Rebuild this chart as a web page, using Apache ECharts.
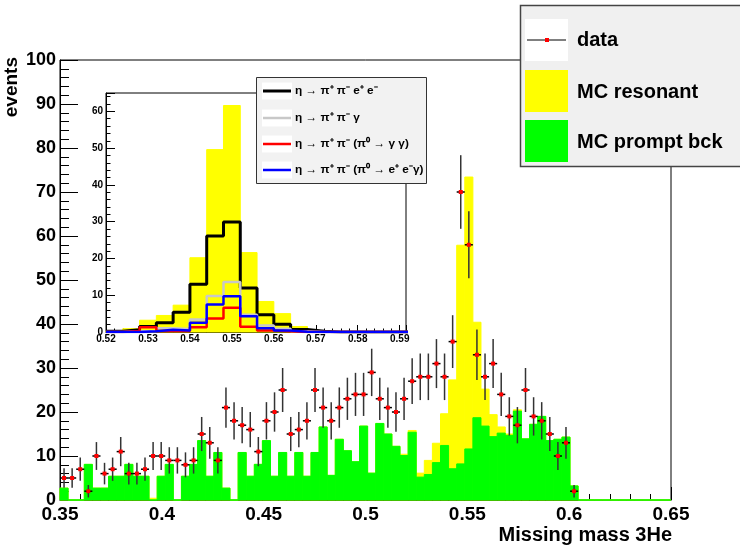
<!DOCTYPE html>
<html>
<head>
<meta charset="utf-8">
<script src="https://cdn.jsdelivr.net/npm/echarts@6.0.0/dist/echarts.min.js"></script>
<style>
  html, body { margin: 0; padding: 0; background: #fff; }
  #chart { width: 740px; height: 545px; }
</style>
</head>
<body>
<div id="chart"></div>
<script>
// main histogram binning
const binStart = 0.35;
const binWidth = 0.003975;

// measured counts per bin (data, error = sqrt(N))
const dataCounts = [5, 5, 7, 2, 10, 6, 7, 11, 6, 6,
                    7, 10, 10, 9, 9, 8, 9, 15, 13, 9,
                    21, 18, 17, 16, 11, 18, 20, 25, 15, 16,
                    18, 25, 21, 18, 21, 23, 24, 24, 29, 23,
                    21, 20, 23, 27, 28, 28, 31, 28, 36, 70,
                    58, 33, 28, 31, 24, 19, 17, 25, 19, 18,
                    15, 10, 13, 2];

// MC prompt background (green)
const mcBck = [2.7, 0, 0, 8.1, 2.7, 2.7, 5.4, 5.4, 8.1, 5.4,
               5.4, 0, 5.4, 8.1, 0, 5.4, 8.1, 13.5, 5.4, 10.8,
               2.7, 0, 10.8, 5.4, 8.1, 13.5, 5.4, 10.8, 5.4, 10.8,
               5.4, 10.8, 16.6, 5.6, 13.8, 11.2, 8.7, 16.8, 6.1, 17.4,
               15.0, 12.2, 10.1, 15.4, 5.2, 5.8, 8.5, 12.4, 7.1, 8.2,
               11.6, 18.7, 16.8, 14.4, 15.2, 14.7, 20.2, 13.9, 17.2, 19.0,
               13.5, 13.8, 14.3, 3.2, 0, 0, 0, 0, 0, 0,
               0, 0, 0, 0, 0, 0];

// MC resonant (yellow, stacked on the background)
const mcRes = [0, 0, 0, 0, 0, 0, 0, 0, 0, 0,
               0, 0.4, 0, 0, 0, 0, 0, 0, 0, 0,
               0, 0, 0, 0, 0, 0, 0, 0, 0, 0,
               0, 0, 0, 0, 0, 0, 0, 0, 0, 0,
               0, 0, 0.3, 0.4, 0.9, 3.2, 4.4, 7.2, 20.2, 49.7,
               61.8, 21.7, 8.4, 5.0, 1.4, 0.3, 0.3, 0, 0, 0,
               0, 0, 0, 0, 0, 0, 0, 0, 0, 0,
               0, 0, 0, 0, 0, 0];

// inset: resonant MC split by channel
const insetStart = 0.52;
const insetWidth = 0.004;
const insetRes   = [0.3, 0.9, 3.2, 4.5, 7.3, 20.2, 49.6, 61.6, 21.6, 8.3, 5.0, 1.5, 0.2, 0, 0, 0, 0, 0];
const insetEE    = [0.2, 0.6, 1.5, 2.5, 5.4, 13.0, 26.1, 29.9, 12.0, 4.7, 2.1, 0.7, 0.2, 0, 0, 0, 0, 0];
const insetGamma = [0, 0.2, 0.3, 1.0, 0.8, 3.4, 9.8, 13.6, 4.7, 1.8, 0.9, 0.2, 0, 0, 0, 0, 0, 0];
const insetGG    = [0, 0.3, 1.3, 0.3, 0.3, 1.3, 3.7, 6.6, 1.4, 0.4, 0.2, 0, 0, 0, 0, 0, 0, 0];
const insetEEG   = [0, 0, 0.2, 0.6, 0.4, 2.5, 7.5, 9.7, 4.3, 1.0, 0.4, 0.1, 0, 0, 0, 0, 0, 0];

const legendLabels = ['data', 'MC resonant', 'MC prompt bck'];
const insetLabels = ['η → π⁺ π⁻ e⁺ e⁻', 'η → π⁺ π⁻ γ', 'η → π⁺ π⁻ (π⁰ → γ γ)', 'η → π⁺ π⁻ (π⁰ → e⁺ e⁻γ)'];
const insetColors = ['#000000', '#c8c8c8', '#ff0000', '#0000ff'];

const FONT = '"Liberation Sans", Arial, sans-serif';
const X_MAX = 0.65;
const INSET_MAX = 0.5915;

function bins(vals, start, w, max) {
    return vals.map((v, i) => [start + i * w, Math.min(start + (i + 1) * w, max), v]);
}
function steps(vals, start, w) {
    const pts = vals.map((v, i) => [start + i * w, v]);
    pts.push([start + vals.length * w, vals[vals.length - 1]]);
    return pts;
}
function histItem(color) {
    return function (params, api) {
        const p0 = api.coord([api.value(0), api.value(2)]);
        const p1 = api.coord([api.value(1), 0]);
        return {
            type: 'rect',
            shape: { x: p0[0], y: p0[1], width: p1[0] - p0[0], height: p1[1] - p0[1] },
            style: { fill: color, stroke: color, lineWidth: 1 }
        };
    };
}

const chart = echarts.init(document.getElementById('chart'), null, { renderer: 'canvas' });

const axisBase = {
    axisLine: { lineStyle: { color: '#000', width: 1 } },
    splitLine: { show: false },
};

const option = {
    animation: false,
    backgroundColor: '#fff',
    grid: [
        { left: 60, top: 60, width: 611, height: 440, show: true, borderColor: '#000', borderWidth: 1,
          backgroundColor: '#fff', outerBoundsMode: 'none' },
        { left: 106, top: 93, width: 300, height: 239, show: true, borderColor: '#000', borderWidth: 1,
          backgroundColor: '#fff', outerBoundsMode: 'none' }
    ],
    xAxis: [
        Object.assign({}, axisBase, {
            type: 'value', gridIndex: 0, min: 0.35, max: 0.65, interval: 0.05,
            axisTick: { inside: true, length: 13, lineStyle: { color: '#000' } },
            minorTick: { show: true, splitNumber: 5, length: 6, lineStyle: { color: '#000' } },
            axisLabel: { color: '#000', fontSize: 19, fontWeight: 'bold', fontFamily: FONT, margin: 5 }
        }),
        Object.assign({}, axisBase, {
            type: 'value', gridIndex: 1, min: 0.52, max: INSET_MAX, interval: 0.01,
            axisTick: { inside: true, length: 7, lineStyle: { color: '#000' } },
            minorTick: { show: true, splitNumber: 5, length: 3.5, lineStyle: { color: '#000' } },
            axisLabel: { color: '#000', fontSize: 10, fontWeight: 'bold', fontFamily: FONT, margin: 2,
                         showMaxLabel: false }
        })
    ],
    yAxis: [
        Object.assign({}, axisBase, {
            type: 'value', gridIndex: 0, min: 0, max: 100, interval: 10,
            axisTick: { inside: true, length: 18, lineStyle: { color: '#000' } },
            minorTick: { show: true, splitNumber: 5, length: 9, lineStyle: { color: '#000' } },
            axisLabel: { color: '#000', fontSize: 18, fontWeight: 'bold', fontFamily: FONT, margin: 4 }
        }),
        Object.assign({}, axisBase, {
            type: 'value', gridIndex: 1, min: 0, max: 65, interval: 10,
            axisTick: { inside: true, length: 9, lineStyle: { color: '#000' } },
            minorTick: { show: true, splitNumber: 5, length: 4.5, lineStyle: { color: '#000' } },
            axisLabel: { color: '#000', fontSize: 10, fontWeight: 'bold', fontFamily: FONT, margin: 3,
                         showMaxLabel: false }
        })
    ],
    series: [
        {
            name: 'MC resonant', type: 'custom', xAxisIndex: 0, yAxisIndex: 0,
            renderItem: histItem('#ffff00'), encode: { x: [0, 1], y: 2 },
            data: bins(mcBck.map((b, i) => b + mcRes[i]), binStart, binWidth, X_MAX)
        },
        {
            name: 'MC prompt bck', type: 'custom', xAxisIndex: 0, yAxisIndex: 0,
            renderItem: histItem('#00ff00'), encode: { x: [0, 1], y: 2 },
            data: bins(mcBck, binStart, binWidth, X_MAX)
        },
        {
            name: 'data', type: 'custom', xAxisIndex: 0, yAxisIndex: 0, z: 5,
            encode: { x: 0, y: 1 },
            data: dataCounts.map((n, i) => [binStart + (i + 0.5) * binWidth, n]),
            renderItem: function (params, api) {
                const x = api.value(0), n = api.value(1), e = Math.sqrt(n);
                const c = api.coord([x, n]);
                const top = api.coord([x, n + e]);
                const bot = api.coord([x, n - e]);
                const l = api.coord([x - binWidth / 2, n]);
                const r = api.coord([x + binWidth / 2, n]);
                return {
                    type: 'group',
                    children: [
                        { type: 'line', shape: { x1: c[0], y1: top[1], x2: c[0], y2: bot[1] },
                          style: { stroke: '#333', lineWidth: 1.5 } },
                        { type: 'line', shape: { x1: l[0], y1: c[1], x2: r[0], y2: c[1] },
                          style: { stroke: '#000', lineWidth: 1.5 } },
                        { type: 'rect', shape: { x: c[0] - 2, y: c[1] - 2, width: 4, height: 4 },
                          style: { fill: '#ff0000' } }
                    ]
                };
            }
        },
        {
            name: 'inset resonant', type: 'custom', xAxisIndex: 1, yAxisIndex: 1, z: 6,
            renderItem: histItem('#ffff00'), encode: { x: [0, 1], y: 2 },
            data: bins(insetRes, insetStart, insetWidth, INSET_MAX)
        }
    ].concat([insetEE, insetGamma, insetGG, insetEEG].map((vals, k) => ({
        name: insetLabels[k], type: 'line', xAxisIndex: 1, yAxisIndex: 1, z: 7 + k,
        step: 'end', showSymbol: false, clip: true,
        lineStyle: { color: insetColors[k], width: k === 0 ? 3 : 2.5 },
        data: steps(vals, insetStart, insetWidth)
    }))),
    graphic: [
        // axis titles
        { type: 'text', x: 2, y: 57, rotation: Math.PI / 2, z: 50,
          style: { text: 'events', font: 'bold 19px ' + FONT, fill: '#000', align: 'right', verticalAlign: 'top' } },
        { type: 'text', x: 672, y: 535, z: 50,
          style: { text: 'Missing mass 3He', font: 'bold 20px ' + FONT, fill: '#000', align: 'right', verticalAlign: 'middle' } },
        // main legend
        { type: 'rect', z: 50, shape: { x: 520.5, y: 5.5, width: 230, height: 161 },
          style: { fill: '#f0f0f0', stroke: '#444', lineWidth: 1.5 } },
        { type: 'rect', z: 51, shape: { x: 525, y: 19, width: 43, height: 42 }, style: { fill: '#fff' } },
        { type: 'line', z: 52, shape: { x1: 527, y1: 40, x2: 566, y2: 40 }, style: { stroke: '#000', lineWidth: 1 } },
        { type: 'rect', z: 53, shape: { x: 545, y: 38, width: 4, height: 4 }, style: { fill: '#ff0000' } },
        { type: 'rect', z: 51, shape: { x: 525, y: 70, width: 43, height: 42 }, style: { fill: '#ffff00' } },
        { type: 'rect', z: 51, shape: { x: 525, y: 120, width: 43, height: 42 }, style: { fill: '#00ff00' } },
        { type: 'text', x: 577, y: 40, z: 52,
          style: { text: legendLabels[0], font: 'bold 20px ' + FONT, fill: '#000', verticalAlign: 'middle' } },
        { type: 'text', x: 577, y: 92, z: 52,
          style: { text: legendLabels[1], font: 'bold 20px ' + FONT, fill: '#000', verticalAlign: 'middle' } },
        { type: 'text', x: 577, y: 142, z: 52,
          style: { text: legendLabels[2], font: 'bold 20px ' + FONT, fill: '#000', verticalAlign: 'middle' } },
        // inset legend
        { type: 'rect', z: 50, shape: { x: 256.5, y: 77.5, width: 170, height: 106 },
          style: { fill: '#f2f2f2', stroke: '#333', lineWidth: 1 } }
    ].concat(insetLabels.map((t, k) => {
        const y = [91, 118, 144, 170][k];
        return [
            { type: 'rect', z: 51, shape: { x: 262, y: y - 8.5, width: 30, height: 17 }, style: { fill: '#fff' } },
            { type: 'line', z: 52, shape: { x1: 263, y1: y, x2: 291, y2: y },
              style: { stroke: insetColors[k], lineWidth: k === 0 ? 3 : 2.5 } },
            { type: 'text', z: 52, x: 295, y: y,
              style: { text: t, font: 'bold 11.8px ' + FONT, fill: '#000', verticalAlign: 'middle' } }
        ];
    }).flat())
};

chart.setOption(option);
</script>
</body>
</html>
